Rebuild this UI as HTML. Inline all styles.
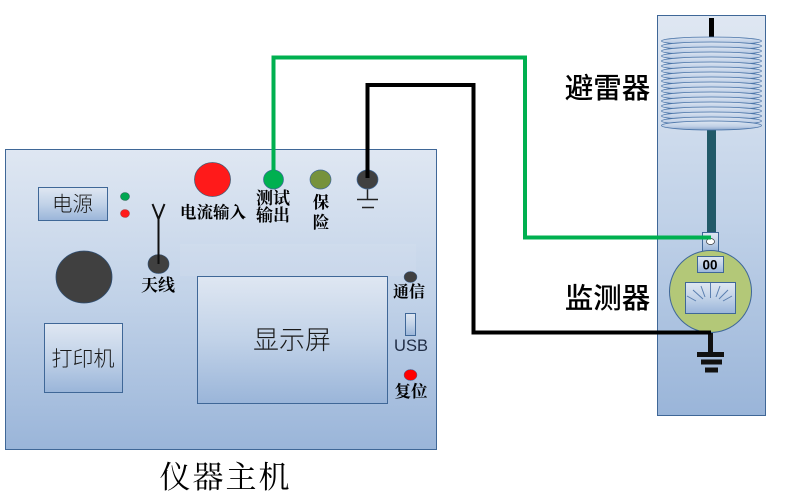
<!DOCTYPE html>
<html>
<head>
<meta charset="utf-8">
<style>
html,body{margin:0;padding:0;background:#fff;width:801px;height:493px;overflow:hidden}
svg{display:block}
text{font-family:"Liberation Sans","Noto Sans CJK SC",sans-serif}
.s{font-family:"Noto Serif CJK SC","Liberation Serif",serif;font-weight:700;fill:#000}
.l{font-family:"Noto Sans CJK SC","Liberation Sans",sans-serif;fill:#1a1a1a;font-weight:300}
</style>
</head>
<body>
<svg width="801" height="493" viewBox="0 0 801 493" xmlns="http://www.w3.org/2000/svg">
<defs>
<linearGradient id="g" x1="0" y1="0" x2="0" y2="1"><stop offset="0" stop-color="#dfe7f2"/><stop offset=".5" stop-color="#c1d2e8"/><stop offset="1" stop-color="#9ab5d9"/></linearGradient>
<linearGradient id="d" x1="0" y1="0" x2="0" y2="1"><stop offset="0" stop-color="#dde6f2"/><stop offset=".6" stop-color="#c0d0e6"/><stop offset="1" stop-color="#8aa6cc"/></linearGradient>
</defs>

<!-- main unit -->
<rect x="5.5" y="149.5" width="431" height="300" fill="url(#g)" stroke="#3f6797"/>
<rect x="180" y="244" width="236" height="32" fill="#fff" opacity=".07"/>

<!-- power -->
<rect x="38.5" y="187.5" width="69" height="33" fill="url(#g)" stroke="#3f6797"/>
<text x="72.500" y="211" font-size="20.500" text-anchor="middle" class="l">电源</text>
<ellipse cx="125" cy="196.500" rx="4.500" ry="4" fill="#00a651" stroke="#33695a" stroke-width=".6"/>
<ellipse cx="125" cy="213.500" rx="4.500" ry="4" fill="#ff1a1a" stroke="#a04848" stroke-width=".6"/>

<!-- knob -->
<ellipse cx="84" cy="277" rx="28" ry="26" fill="#404040" stroke="#2f4e72" stroke-width=".8"/>

<!-- antenna -->
<ellipse cx="158.500" cy="264" rx="10.500" ry="9.500" fill="#404040" stroke="#2f4e72" stroke-width=".6"/>
<path d="M158.500 264V219M152.500 204L158.500 219L164.500 204" fill="none" stroke="#111" stroke-width="2"/>
<text x="158" y="291" font-size="17" text-anchor="middle" class="s">天线</text>

<!-- printer -->
<rect x="44.500" y="323.500" width="78" height="69" fill="url(#g)" stroke="#3f6797"/>
<text x="83" y="366" font-size="21" text-anchor="middle" class="l">打印机</text>

<!-- current input -->
<ellipse cx="212.500" cy="179.500" rx="18" ry="17" fill="#ff1a1a" stroke="#4a5a70" stroke-width=".8"/>
<text x="213" y="218" font-size="16.500" text-anchor="middle" class="s">电流输入</text>

<!-- test output -->
<text x="273" y="204" font-size="17" text-anchor="middle" class="s">测试</text>
<text x="273" y="221" font-size="17" text-anchor="middle" class="s">输出</text>

<!-- fuse -->
<ellipse cx="320.500" cy="179.500" rx="10.500" ry="9.500" fill="#76923c" stroke="#3f6797" stroke-width=".7"/>
<text x="321" y="208" font-size="16.500" text-anchor="middle" class="s">保</text>
<text x="321" y="228" font-size="16.500" text-anchor="middle" class="s">险</text>

<!-- ground terminal -->
<path d="M367.500 189V199" stroke="#222" stroke-width="1.500"/>
<path d="M357 199.500H378M362 207.500H374" stroke="#222" stroke-width="1.500"/>

<!-- display -->
<rect x="197.500" y="276.500" width="190" height="127" fill="url(#g)" stroke="#3f6797"/>
<text x="292" y="349" font-size="26" text-anchor="middle" class="l">显示屏</text>

<!-- right side controls -->
<ellipse cx="410.500" cy="277" rx="6.500" ry="5.500" fill="#404040" stroke="#3f6797" stroke-width=".5"/>
<text x="409" y="297" font-size="16" text-anchor="middle" class="s">通信</text>
<rect x="405.500" y="313.500" width="10" height="22" fill="url(#g)" stroke="#3f6797"/>
<text x="411" y="351" font-size="16.500" text-anchor="middle" fill="#1f2c44">USB</text>
<ellipse cx="410.500" cy="375" rx="6.500" ry="5.500" fill="#ff0000" stroke="#3f6797" stroke-width=".5"/>
<text x="411" y="397" font-size="16.500" text-anchor="middle" class="s">复位</text>

<text x="225.500" y="488" font-size="31" text-anchor="middle" letter-spacing="2" style="font-family:'Noto Serif CJK SC',serif" fill="#000">仪器主机</text>

<!-- right panel -->
<rect x="657.500" y="15.500" width="108" height="400" fill="url(#g)" stroke="#3f6797"/>
<rect x="709" y="18" width="5" height="19" fill="#000"/>
<rect x="707" y="128" width="9" height="106" fill="#215968"/>

<!-- arrester discs -->
<g fill="url(#d)" stroke="#4a74a8" stroke-width=".8">
<ellipse cx="711.500" cy="41" rx="50" ry="4"/>
<ellipse cx="711.500" cy="46" rx="50" ry="4"/>
<ellipse cx="711.500" cy="51" rx="50" ry="4"/>
<ellipse cx="711.500" cy="56" rx="50" ry="4"/>
<ellipse cx="711.500" cy="61" rx="50" ry="4"/>
<ellipse cx="711.500" cy="66" rx="50" ry="4"/>
<ellipse cx="711.500" cy="71" rx="50" ry="4"/>
<ellipse cx="711.500" cy="76" rx="50" ry="4"/>
<ellipse cx="711.500" cy="81" rx="50" ry="4"/>
<ellipse cx="711.500" cy="86" rx="50" ry="4"/>
<ellipse cx="711.500" cy="91" rx="50" ry="4"/>
<ellipse cx="711.500" cy="96" rx="50" ry="4"/>
<ellipse cx="711.500" cy="101" rx="50" ry="4"/>
<ellipse cx="711.500" cy="106" rx="50" ry="4"/>
<ellipse cx="711.500" cy="111" rx="50" ry="4"/>
<ellipse cx="711.500" cy="116" rx="50" ry="4"/>
<ellipse cx="711.500" cy="121" rx="50" ry="4"/>
<ellipse cx="711.500" cy="125.500" rx="50" ry="4.500"/>
</g>

<text x="607.500" y="98" font-size="28.500" text-anchor="middle" style="font-family:'Noto Sans CJK SC',sans-serif" fill="#000" font-weight="500">避雷器</text>
<text x="607.500" y="308" font-size="28.500" text-anchor="middle" style="font-family:'Noto Sans CJK SC',sans-serif" fill="#000" font-weight="500">监测器</text>

<!-- monitor -->
<rect x="702.500" y="232.500" width="16" height="19" fill="url(#g)" stroke="#3f6797"/>
<ellipse cx="710.500" cy="241.500" rx="4" ry="3" fill="#fff" stroke="#333" stroke-width=".7"/>
<ellipse cx="710.500" cy="291.500" rx="41" ry="41" fill="#b3c878" stroke="#3f6797" stroke-width="1"/>
<rect x="697.500" y="256.500" width="26" height="16" fill="url(#g)" stroke="#3f6797"/>
<text x="710" y="269.500" font-size="13.500" font-weight="700" text-anchor="middle" fill="#000">00</text>
<rect x="685.500" y="282.500" width="50" height="31" fill="url(#g)" stroke="#3f6797"/>
<path d="M710.500 283V298M701 286L705 297M693 290L703 299M687 296L696 301M720 286L716 297M728 290L719 299M732 296L723 301" stroke="#5b7fb0" stroke-width="1" fill="none"/>

<!-- ground -->
<path d="M710.500 333V353" stroke="#111" stroke-width="5"/>
<path d="M697 354.500H724" stroke="#111" stroke-width="5"/>
<path d="M701 362H722" stroke="#111" stroke-width="5"/>
<path d="M705 370H718" stroke="#111" stroke-width="5"/>

<!-- test-output terminal + wires -->
<ellipse cx="273.500" cy="179.500" rx="10" ry="9.500" fill="#00b050" stroke="#3f6797" stroke-width=".7"/>
<ellipse cx="367.500" cy="179.500" rx="10.500" ry="9.500" fill="#404040" stroke="#3f6797" stroke-width=".7"/>
<path d="M273.500 171V57.500H525V237.500H711" fill="none" stroke="#00b050" stroke-width="4"/>
<path d="M367.500 178V85H473.500V332.500H711" fill="none" stroke="#000" stroke-width="4"/>
</svg>
</body>
</html>
